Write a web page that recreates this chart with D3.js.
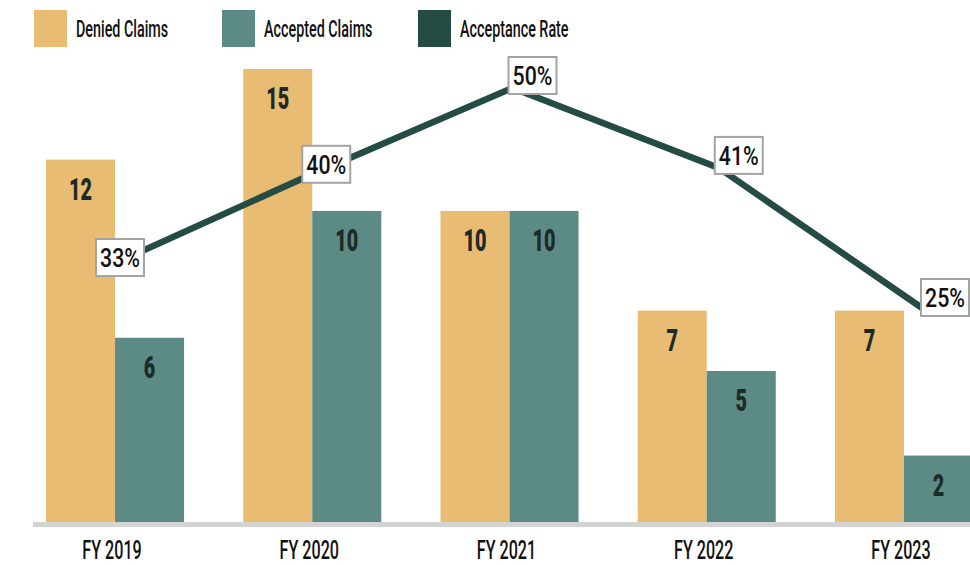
<!DOCTYPE html>
<html>
<head>
<meta charset="utf-8">
<script src="https://cdn.jsdelivr.net/npm/d3@7"></script>
<style>
  html, body { margin: 0; padding: 0; background: #ffffff; }
  svg { display: block; font-family: Roboto, "Noto Sans", sans-serif; }
</style>
</head>
<body>
<svg id="chart" width="970" height="565"></svg>
<script>
// ---- data ----
const years = ["FY 2019", "FY 2020", "FY 2021", "FY 2022", "FY 2023"];
const denied = [12, 15, 10.3, 7, 7];
const accepted = [6.1, 10.3, 10.3, 5, 2.2];
const rate = [29.5, 40, 50, 41, 25];
const rateLabels = ["33%", "40%", "50%", "41%", "25%"];
const seriesNames = ["Denied Claims", "Accepted Claims", "Acceptance Rate"];

// ---- styles ----
const colors = { denied: "#e8bd73", accepted: "#5c8a85", rate: "#244c45" };
const svg = d3.select("#chart");
const W = 970, H = 565;

const x0 = d3.scaleBand().domain(years).range([46, 973]).paddingInner(0.3).paddingOuter(0);
const x1 = d3.scaleBand().domain(["denied", "accepted"]).range([0, x0.bandwidth()]);
const yBar = d3.scaleLinear().domain([0, 15]).range([522, 69]);
const xLine = d3.scalePoint().domain(years).range([100, 925]);
const yRate = d3.scaleLinear().domain([0, 50]).range([532, 88]);

const fmt = d3.format(".0f");

// condensed text helper
function ctext(g, x, y, txt, size, weight, sx, anchor, fill) {
  return g.append("text")
    .attr("transform", `translate(${x},${y}) scale(${sx},1)`)
    .attr("text-anchor", anchor || "middle")
    .attr("font-size", size)
    .attr("font-weight", weight)
    .attr("fill", fill || "#111")
    .text(txt);
}

// ---- bars ----
const rows = years.map((yr, i) => ({ year: yr, denied: denied[i], accepted: accepted[i] }));
const gBars = svg.append("g");
rows.forEach(r => {
  ["denied", "accepted"].forEach(k => {
    const bx = x0(r.year) + x1(k);
    gBars.append("rect")
      .attr("x", bx)
      .attr("y", yBar(r[k]))
      .attr("width", x1.bandwidth())
      .attr("height", yBar(0) - yBar(r[k]))
      .attr("fill", colors[k]);
  });
});

// axis baseline
const xAxis = d3.axisBottom(x0).tickSize(0).tickPadding(0).tickFormat(() => "");
const gAxis = svg.append("g").attr("transform", `translate(0,${yBar(0)})`).call(xAxis);
gAxis.select(".domain").remove();
svg.append("line")
  .attr("x1", 33).attr("x2", W)
  .attr("y1", yBar(0) + 2.5).attr("y2", yBar(0) + 2.5)
  .attr("stroke", "#d3d3d3").attr("stroke-width", 5);

// x labels
years.forEach(yr => {
  ctext(svg, x0(yr) + x0.bandwidth() / 2 - 3, 559, yr, 26, 500, 0.62, "middle", "#111");
});

// bar labels
rows.forEach(r => {
  ["denied", "accepted"].forEach(k => {
    const cx = x0(r.year) + x1(k) + x1.bandwidth() / 2;
    ctext(gBars, cx, yBar(r[k]) + 40, fmt(r[k]), 31, 900, 0.64, "middle", "#1e2a27");
  });
});

// ---- line ----
const pts = years.map((yr, i) => ({ year: yr, v: rate[i], label: rateLabels[i] }));
const line = d3.line().x(d => xLine(d.year)).y(d => yRate(d.v));
svg.append("path")
  .datum(pts)
  .attr("d", line)
  .attr("fill", "none")
  .attr("stroke", colors.rate)
  .attr("stroke-width", 6.5)
  .attr("stroke-linejoin", "miter");

const gLab = svg.append("g");
pts.forEach(p => {
  const px = xLine(p.year), py = yRate(p.v);
  const bw = 48, bh = 37;
  const bx = px - 4, by = py + 6 - bh;
  gLab.append("rect")
    .attr("x", bx).attr("y", by).attr("width", bw).attr("height", bh)
    .attr("fill", "#ffffff").attr("stroke", "#a3a3a3").attr("stroke-width", 2);
  ctext(gLab, bx + bw / 2, by + bh / 2 + 9.5, p.label, 26, 500, 0.82, "middle", "#111");
});

// ---- legend ----
const legendKeys = ["denied", "accepted", "rate"];
const legendX = [34, 222, 418];
legendKeys.forEach((k, i) => {
  svg.append("rect")
    .attr("x", legendX[i]).attr("y", 10).attr("width", 33).attr("height", 37)
    .attr("fill", colors[k]);
  ctext(svg, legendX[i] + 42, 37, seriesNames[i], 23.5, 500, 0.61, "start", "#111");
});
</script>
</body>
</html>
